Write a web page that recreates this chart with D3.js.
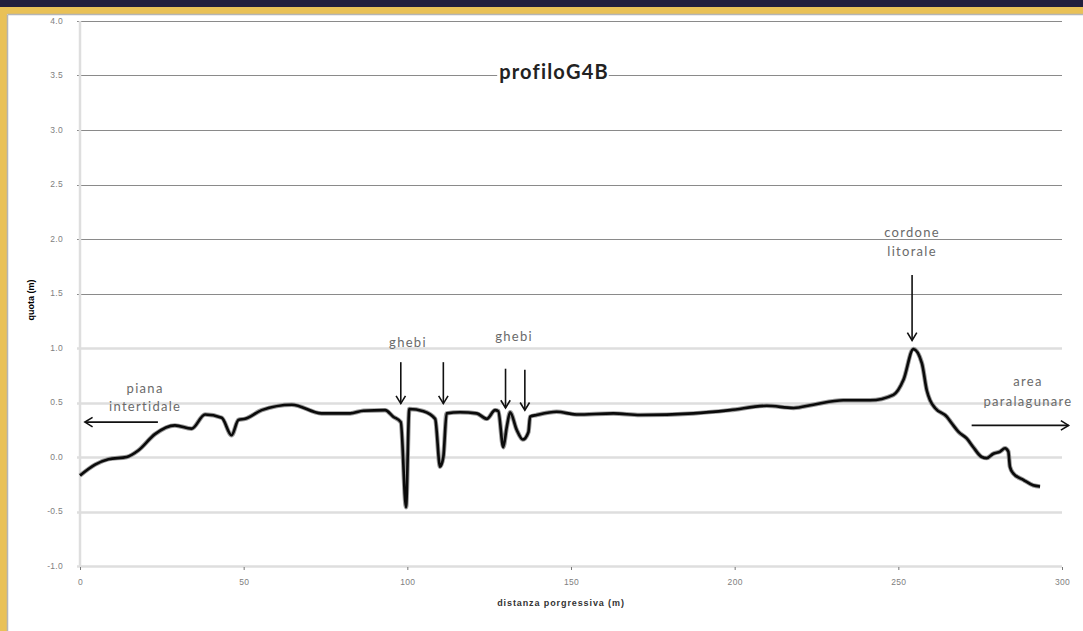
<!DOCTYPE html>
<html><head><meta charset="utf-8">
<script src="https://cdn.jsdelivr.net/npm/d3@7/dist/d3.min.js"></script>
<style>html,body{margin:0;padding:0;background:#fff;}svg{display:block;}</style>
</head><body>
<svg id="c" width="1083" height="631"></svg>
<script>
// ---- data ----
const distance = [0,4.6,8.7,14.3,17.8,22.9,29,34.1,38.2,43.3,46.3,48.4,50.4,55.5,64.7,73.8,82.5,86.6,93.2,95.7,98,99.6,100.6,104.9,108.5,110,111,112,116.1,121.2,124.3,126.8,127.8,129.3,130.4,131.4,133.4,135.3,137,137.5,139.5,145.6,151.7,163,171.1,187.4,198.6,209.8,218,224,233.2,241.4,248.5,251.6,254.6,257.2,258.7,259.7,261.2,264.8,266.3,268.4,270.9,272.9,275.5,277,279,281.1,282.6,283.6,284.1,285.1,288.2,291.2,293.3];
const quota = [-0.17,-0.07,-0.02,0,0.06,0.21,0.29,0.26,0.39,0.36,0.20,0.34,0.35,0.43,0.48,0.40,0.40,0.425,0.43,0.37,0.32,-0.46,0.44,0.42,0.35,-0.09,0.0,0.40,0.41,0.40,0.35,0.43,0.42,0.09,0.28,0.41,0.25,0.16,0.23,0.37,0.385,0.415,0.39,0.40,0.385,0.40,0.43,0.47,0.45,0.48,0.52,0.52,0.57,0.71,0.99,0.86,0.61,0.52,0.45,0.37,0.31,0.23,0.17,0.09,0.00,-0.01,0.03,0.05,0.08,0.05,-0.09,-0.15,-0.21,-0.26,-0.27];
const yTicks = [-1.0,-0.5,0.0,0.5,1.0,1.5,2.0,2.5,3.0,3.5,4.0];
const xTicks = [0,50,100,150,200,250,300];
const title = "profiloG4B";
const xTitle = "distanza porgressiva (m)";
const yTitle = "quota (m)";
// annotation texts (in data units)
const labels = [
  {t:"piana", d:19.9, v:0.63}, {t:"intertidale", d:19.9, v:0.46},
  {t:"ghebi", d:100.2, v:1.05}, {t:"ghebi", d:132.6, v:1.11},
  {t:"cordone", d:254.2, v:2.06}, {t:"litorale", d:254.2, v:1.89},
  {t:"area", d:289.6, v:0.69}, {t:"paralagunare", d:289.6, v:0.51}
];
// arrows: from (d1,v1) to (d2,v2)
const arrows = [
  {d1:23.8, v1:0.32, d2:1.5, v2:0.32},
  {d1:98.0, v1:0.87, d2:98.0, v2:0.49},
  {d1:111.0, v1:0.87, d2:111.0, v2:0.49},
  {d1:130.0, v1:0.81, d2:130.0, v2:0.45},
  {d1:135.9, v1:0.80, d2:135.9, v2:0.43},
  {d1:254.2, v1:1.67, d2:254.2, v2:1.07},
  {d1:272.4, v1:0.29, d2:302.0, v2:0.29}
];

const svg = d3.select("#c");
// frame
svg.append("rect").attr("x",0).attr("y",0).attr("width",1083).attr("height",631).attr("fill","#fff");
svg.append("rect").attr("x",0).attr("y",0).attr("width",1083).attr("height",14).attr("fill","#e9c157");
svg.append("rect").attr("x",0).attr("y",0).attr("width",7).attr("height",631).attr("fill","#e9c157");
svg.append("rect").attr("x",0).attr("y",0).attr("width",1083).attr("height",7).attr("fill","#221f3d");
svg.append("line").attr("x1",7.5).attr("x2",1083).attr("y1",14.5).attr("y2",14.5).attr("stroke","#b5b5b5").attr("stroke-width",1.5);
svg.append("line").attr("x1",7.5).attr("x2",7.5).attr("y1",14.5).attr("y2",631).attr("stroke","#b5b5b5").attr("stroke-width",1.5);

const x = d3.scaleLinear().domain([0,300]).range([80,1062]);
const y = d3.scaleLinear().domain([-1,4]).range([566,21]);

// gridlines
svg.append("g").selectAll("line").data(yTicks).join("line")
  .attr("x1",77).attr("x2",1062)
  .attr("y1",d=>Math.round(y(d))+0.5).attr("y2",d=>Math.round(y(d))+0.5)
  .attr("stroke",d=>d>=1.5?"#8a8a8a":"#dedede")
  .attr("stroke-width",d=>d>=1.5?1.2:2.5);
// y axis line
svg.append("line").attr("x1",80).attr("x2",80).attr("y1",y(4)).attr("y2",y(-1))
  .attr("stroke","#dedede").attr("stroke-width",2.5);

// y tick labels
svg.append("g").selectAll("text").data(yTicks).join("text")
  .attr("x",63).attr("y",d=>y(d)).attr("dy","0.35em").attr("text-anchor","end")
  .attr("font-family","Liberation Sans, sans-serif").attr("font-size",8.5).attr("fill","#808080").attr("letter-spacing",0.3)
  .text(d=>d3.format(".1f")(d).replace("−","-"));

// x axis ticks
const xa = d3.axisBottom(x).tickValues(xTicks).tickSize(3).tickFormat(d3.format("d"));
const gx = svg.append("g").attr("transform",`translate(0,${y(-1)+1})`).call(xa);
gx.select(".domain").remove();
gx.selectAll(".tick line").attr("stroke","#777");
gx.selectAll(".tick text").attr("font-family","Liberation Sans, sans-serif").attr("font-size",8.5)
  .attr("fill","#808080").attr("letter-spacing",0.3).attr("dy","1.4em");

// axis titles
svg.append("text").attr("x",561).attr("y",606).attr("text-anchor","middle")
  .attr("font-family","Liberation Sans, sans-serif").attr("font-size",9).attr("font-weight","bold").attr("fill","#333")
  .attr("letter-spacing",0.9)
  .text(xTitle);
svg.append("text").attr("transform","translate(34,300) rotate(-90)").attr("text-anchor","middle")
  .attr("font-family","Liberation Sans, sans-serif").attr("font-size",9).attr("font-weight","bold").attr("fill","#000")
  .text(yTitle);

// title with white box over gridline
const tg = svg.append("g");
const tbox = tg.append("rect").attr("fill","#fff");
const tt = tg.append("text").attr("x",554).attr("y",79).attr("text-anchor","middle")
  .attr("font-family","Lato, sans-serif").attr("font-size",20).attr("font-weight","bold").attr("fill","#222")
  .attr("letter-spacing",1.2).style("font-variant-ligatures","none")
  .text(title);
const bb = tt.node().getBBox();
tbox.attr("x",bb.x-2).attr("y",bb.y).attr("width",bb.width+2).attr("height",bb.height);

// profile line
const pts = distance.map((d,i)=>[d,quota[i]]);
const line = d3.line().x(p=>x(p[0])).y(p=>y(p[1])).curve(d3.curveMonotoneX);
svg.append("path").attr("d",line(pts)).attr("fill","none").attr("stroke","#9a9a9a").attr("stroke-width",4.5).attr("stroke-linejoin","round");
svg.append("path").attr("d",line(pts)).attr("fill","none").attr("stroke","#0a0a0a").attr("stroke-width",2.6).attr("stroke-linejoin","round");

// annotation labels
svg.append("g").selectAll("text").data(labels).join("text")
  .attr("x",d=>x(d.d)).attr("y",d=>y(d.v)).attr("dy","0.35em").attr("text-anchor","middle")
  .attr("font-family","Lato, sans-serif").attr("font-size",13).attr("fill","#6a6a6a").attr("letter-spacing",1.3)
  .text(d=>d.t);

// arrows
const ag = svg.append("g").attr("stroke","#111").attr("fill","none").attr("stroke-width",1.6);
arrows.forEach(a=>{
  const x1=x(a.d1), y1=y(a.v1), x2=x(a.d2), y2=y(a.v2);
  ag.append("line").attr("x1",x1).attr("y1",y1).attr("x2",x2).attr("y2",y2);
  const ang = Math.atan2(y2-y1,x2-x1), L=9, w=0.55;
  const p1=[x2-L*Math.cos(ang-w), y2-L*Math.sin(ang-w)];
  const p2=[x2-L*Math.cos(ang+w), y2-L*Math.sin(ang+w)];
  ag.append("path").attr("d",`M${p1[0]},${p1[1]}L${x2},${y2}L${p2[0]},${p2[1]}`);
});
</script>
</body></html>
